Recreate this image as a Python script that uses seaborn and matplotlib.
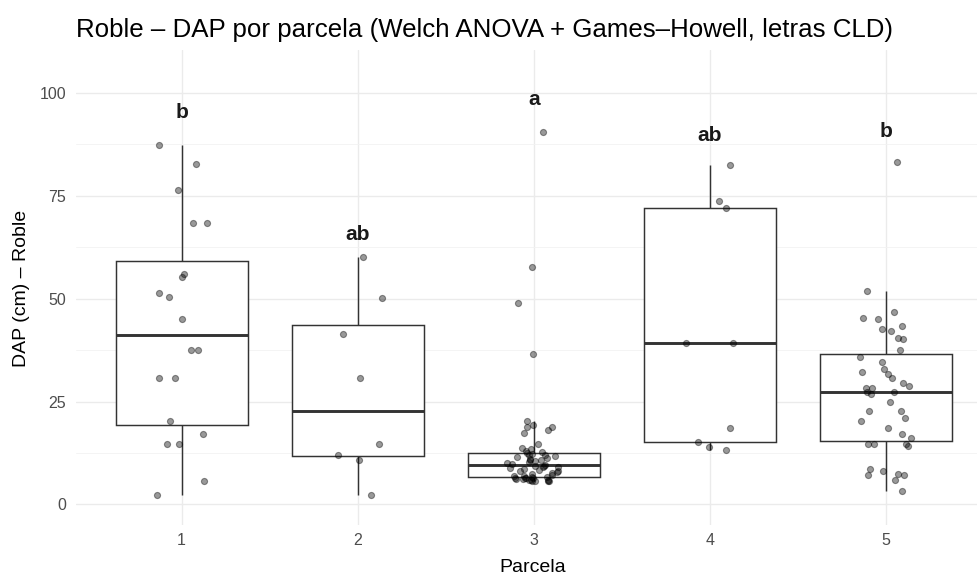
import numpy as np
import pandas as pd
import seaborn as sns
import matplotlib.pyplot as plt
from matplotlib.ticker import MultipleLocator

# DAP (cm) de roble por parcela
parcela_1 = [87.2, 82.8, 76.5, 68.4, 68.4, 56.1, 55.3, 51.4, 50.5, 45.0,
             37.4, 37.4, 30.6, 30.6, 20.2, 17.0, 14.7, 14.7, 5.8, 2.3]
parcela_2 = [60.1, 50.1, 41.3, 30.6, 14.6, 12.1, 10.7, 2.3]
parcela_3 = [90.5, 57.7, 49.0, 36.6, 20.2, 19.4, 18.7, 18.7, 18.0, 17.4,
             14.6, 13.8, 13.4, 13.0, 12.7, 12.4, 12.2, 12.1, 11.9, 11.7,
             11.5, 11.3, 11.1, 10.9, 10.7, 10.5, 10.3, 10.0, 9.8, 9.6,
             9.4, 9.3, 9.1, 9.0, 8.8, 8.6, 8.4, 8.2, 8.0, 7.8,
             7.6, 7.4, 7.2, 7.0, 6.8, 6.6, 6.6, 6.5, 6.4, 6.3,
             6.3, 6.2, 6.1, 6.0, 6.0, 5.9, 5.8, 5.7, 5.6, 5.6]
parcela_4 = [82.5, 73.7, 72.1, 39.1, 39.1, 18.6, 15.1, 13.9, 13.2]
parcela_5 = [83.3, 51.8, 46.7, 45.3, 45.1, 43.3, 42.5, 42.2, 40.5, 40.2,
             37.5, 35.8, 34.5, 33.0, 32.1, 31.8, 30.7, 29.4, 28.7, 28.3,
             28.3, 27.3, 27.3, 26.9, 24.9, 22.6, 22.6, 21.0, 20.2, 18.6,
             17.2, 16.2, 14.8, 14.8, 14.6, 14.3, 8.7, 8.1, 7.4, 7.1,
             7.1, 5.9, 3.2]

parcelas = ["1", "2", "3", "4", "5"]
valores = [parcela_1, parcela_2, parcela_3, parcela_4, parcela_5]
letras = ["b", "ab", "a", "ab", "b"]
letras_y = [93.8, 64.3, 97.1, 88.2, 89.2]

df = pd.DataFrame({
    "Parcela": np.repeat(parcelas, [len(v) for v in valores]),
    "DAP": np.concatenate(valores),
})

sns.set_theme(style="white")
plt.rcParams['font.family'] = ['Liberation Sans', 'DejaVu Sans']

W, H = 977, 579
fig = plt.figure(figsize=(W / 100, H / 100), dpi=100)
ax = fig.add_axes([76 / W, (H - 525) / H, (W - 76) / W, (525 - 50) / H])

sns.boxplot(data=df, x="Parcela", y="DAP", order=parcelas, ax=ax,
            width=0.75, color="white", linecolor="#333333", linewidth=1.05,
            showfliers=False, showcaps=False,
            medianprops=dict(linewidth=2.1, color="#333333"))
np.random.seed(7)
sns.stripplot(data=df, x="Parcela", y="DAP", order=parcelas, ax=ax,
              jitter=0.15, color="black", edgecolor="black", linewidth=0.8,
              alpha=0.4, size=4.4, zorder=3)

for i, (txt, yv) in enumerate(zip(letras, letras_y)):
    ax.text(i, yv, txt, ha="center", va="baseline", fontsize=15,
            fontweight="bold", color="#1a1a1a")

ax.set_xlim(-0.6, (W - 182) / 176)
ax.set_ylim(-5, 110.4)
ax.yaxis.set_major_locator(MultipleLocator(25))
ax.yaxis.set_minor_locator(MultipleLocator(12.5))
ax.grid(True, which="major", color="#EBEBEB", linewidth=1.0)
ax.grid(True, which="minor", axis="y", color="#F2F2F2", linewidth=0.6)
ax.set_axisbelow(True)
for s in ax.spines.values():
    s.set_visible(False)
ax.tick_params(axis="both", which="both", length=0, labelsize=11.5,
               labelcolor="#4D4D4D")
ax.tick_params(axis="y", pad=7)
ax.tick_params(axis="x", pad=6)
ax.set_xlabel("")
ax.set_ylabel("")

fig.text(533 / W, 1 - 568 / H, "Parcela", ha="center", va="center",
         fontsize=14, color="black")
fig.text(22 / W, 1 - 288 / H, "DAP (cm) – Roble", ha="center", va="center",
         rotation=90, fontsize=14, color="black")
fig.text(76 / W, 1 - 30 / H,
         "Roble – DAP por parcela (Welch ANOVA + Games–Howell, letras CLD)",
         ha="left", va="center", fontsize=18.6, color="black")

fig.savefig("out.png", dpi=100)
